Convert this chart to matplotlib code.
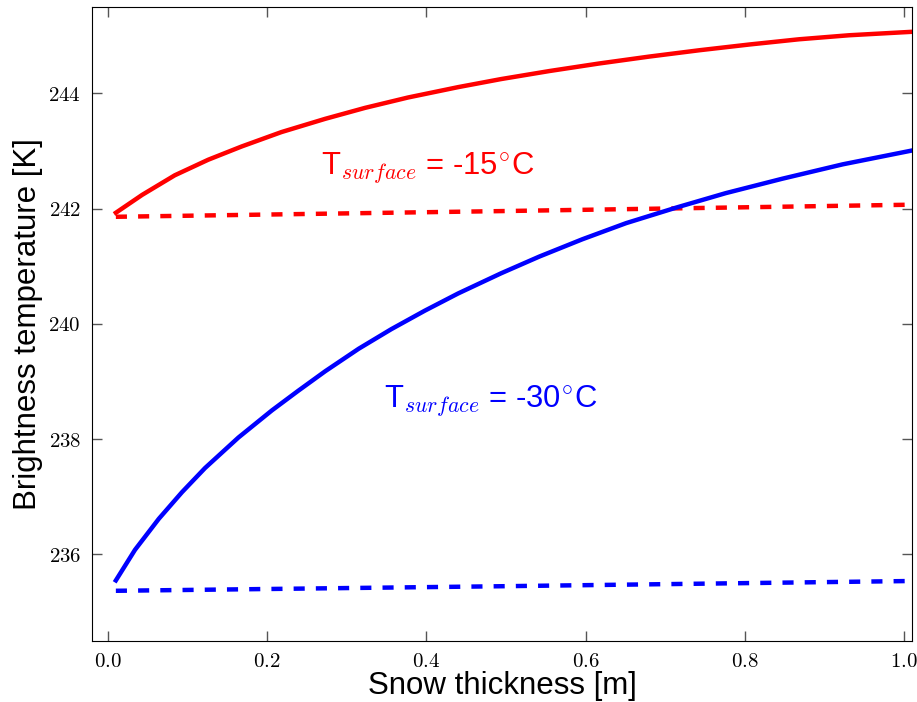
import matplotlib
matplotlib.use("Agg")
import matplotlib.pyplot as plt
from matplotlib.ticker import FuncFormatter

plt.rcParams['font.family'] = ['Liberation Sans', 'DejaVu Sans']
plt.rcParams['mathtext.fontset'] = 'cm'

# snow thickness [m] and brightness temperature [K]
# T_surface = -15 C, full model
thick_red = [0.01, 0.043, 0.084, 0.126, 0.168, 0.218, 0.273, 0.323, 0.377,
             0.44, 0.494, 0.555, 0.617, 0.68, 0.743, 0.806, 0.868, 0.931, 1.01]
tb_red = [241.93, 242.24, 242.58, 242.85, 243.08, 243.33, 243.56, 243.75, 243.93,
          244.11, 244.25, 244.39, 244.52, 244.64, 244.75, 244.85, 244.94, 245.01, 245.07]

# T_surface = -30 C, full model
thick_blue = [0.01, 0.034, 0.064, 0.093, 0.122, 0.164, 0.206, 0.239, 0.273, 0.315,
              0.356, 0.398, 0.44, 0.494, 0.542, 0.596, 0.651, 0.714, 0.776, 0.847,
              0.923, 1.01]
tb_blue = [235.55, 236.08, 236.62, 237.08, 237.50, 238.03, 238.50, 238.84, 239.18, 239.57,
           239.91, 240.23, 240.53, 240.88, 241.17, 241.47, 241.75, 242.02, 242.27, 242.52,
           242.77, 243.01]

# reference runs (dashed)
thick_dash = [0.01, 0.5, 1.01]
tb_red_dash = [241.86, 241.96, 242.07]
tb_blue_dash = [235.37, 235.45, 235.54]

fig = plt.figure(figsize=(9.17, 7.02), dpi=100)
ax = fig.add_axes([0.1003, 0.087, 0.8942, 0.903])

lw = 3.2
dash = (0, (2.5, 2.5))
ax.plot(thick_red, tb_red, color='red', lw=lw)
ax.plot(thick_dash, tb_red_dash, color='red', lw=lw, linestyle=dash)
ax.plot(thick_blue, tb_blue, color='blue', lw=lw)
ax.plot(thick_dash, tb_blue_dash, color='blue', lw=lw, linestyle=dash)

ax.text(0.268, 242.70, r'T$_{surface}$ = -15$^{\circ}$C', color='red',
        fontsize=22.3, va='center', ha='left')
ax.text(0.347, 238.66, r'T$_{surface}$ = -30$^{\circ}$C', color='blue',
        fontsize=22.3, va='center', ha='left')

ax.set_xlim(-0.02, 1.01)
ax.set_ylim(234.5, 245.5)
ax.set_xticks([0.0, 0.2, 0.4, 0.6, 0.8, 1.0])
ax.set_yticks([236, 238, 240, 242, 244])
ax.xaxis.set_major_formatter(FuncFormatter(lambda v, p: r'$%.1f$' % v))
ax.yaxis.set_major_formatter(FuncFormatter(lambda v, p: r'$%d$' % v))
ax.tick_params(direction='in', top=True, right=True, length=7, width=1,
               color='#555555', labelsize=15, pad=8)

ax.set_xlabel('Snow thickness [m]', fontsize=22.5, labelpad=0)
ax.set_ylabel('Brightness temperature [K]', fontsize=22.5, labelpad=4)

fig.savefig('out.png', dpi=100)
